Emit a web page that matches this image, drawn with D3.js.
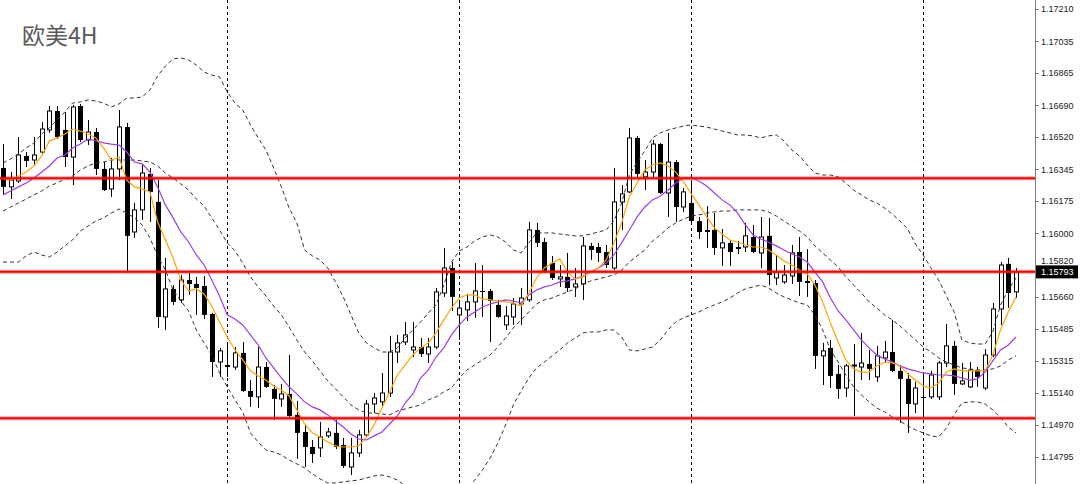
<!DOCTYPE html>
<html><head><meta charset="utf-8">
<script src="https://cdn.jsdelivr.net/npm/d3@7"></script>
<style>html,body{margin:0;padding:0;background:#fff;} svg{display:block}</style>
</head><body>
<svg id="c" width="1080" height="484"></svg>
<script>
const title = "欧美4H";
const opens = [1.16353,1.16251,1.16283,1.16418,1.16396,1.16439,1.16558,1.16660,1.16558,1.16412,
1.16687,1.16504,1.16547,1.16348,1.16240,1.16348,1.16574,1.16008,1.16127,1.16321,
1.16170,1.15550,1.15701,1.15642,1.15749,1.15728,1.15717,1.15566,1.15307,1.15291,
1.15280,1.15356,1.15151,1.15119,1.15280,1.15162,1.15108,1.15135,1.15022,1.14930,
1.14849,1.14844,1.14909,1.14925,1.14860,1.14741,1.14817,1.14914,1.15081,1.15092,
1.15140,1.15361,1.15415,1.15372,1.15388,1.15350,1.15388,1.15679,1.15814,1.15561,
1.15588,1.15631,1.15690,1.15690,1.15615,1.15507,1.15550,1.15620,1.15642,1.16019,
1.15954,1.15841,1.15755,1.15766,1.15712,1.15728,1.15933,1.15927,1.15900,1.15814,
1.16170,1.16224,1.16515,1.16305,1.16331,1.16482,1.16218,1.16385,1.16143,1.16164,
1.16067,1.16019,1.16019,1.15922,1.15949,1.15927,1.15927,1.15981,1.15895,1.15987,
1.15760,1.15739,1.15771,1.15900,1.15744,1.15733,1.15340,1.15383,1.15243,1.15167,
1.15286,1.15280,1.15297,1.15227,1.15329,1.15361,1.15259,1.15216,1.15081,1.15119,
1.15119,1.15119,1.15302,1.15394,1.15189,1.15173,1.15264,1.15167,1.15345,1.15593,
1.15836,1.15685];
const highs = [1.16482,1.16331,1.16520,1.16439,1.16520,1.16601,1.16687,1.16687,1.16655,1.16693,
1.16698,1.16612,1.16569,1.16385,1.16407,1.16666,1.16596,1.16164,1.16369,1.16353,
1.16288,1.15868,1.15722,1.15776,1.15787,1.15766,1.15771,1.15571,1.15383,1.15404,
1.15388,1.15415,1.15210,1.15388,1.15307,1.15183,1.15189,1.15345,1.15097,1.14968,
1.14887,1.14984,1.14952,1.14995,1.14898,1.14898,1.14941,1.15103,1.15140,1.15248,
1.15448,1.15453,1.15523,1.15523,1.15437,1.15437,1.15706,1.15922,1.15846,1.15625,
1.15674,1.15841,1.15830,1.15701,1.15642,1.15609,1.15652,1.15706,1.16062,1.16057,
1.15976,1.15879,1.15830,1.15895,1.15814,1.15981,1.15949,1.15949,1.15938,1.16353,
1.16261,1.16569,1.16526,1.16396,1.16504,1.16488,1.16542,1.16396,1.16245,1.16272,
1.16089,1.16148,1.16110,1.16024,1.15965,1.15960,1.16057,1.16046,1.16089,1.16084,
1.15884,1.15830,1.15938,1.15981,1.15916,1.15749,1.15410,1.15426,1.15291,1.15297,
1.15404,1.15464,1.15372,1.15394,1.15421,1.15534,1.15291,1.15248,1.15200,1.15248,
1.15259,1.15313,1.15512,1.15421,1.15302,1.15307,1.15280,1.15377,1.15625,1.15846,
1.15868,1.15814];
const lows = [1.16208,1.16186,1.16272,1.16358,1.16364,1.16423,1.16542,1.16509,1.16358,1.16261,
1.16493,1.16477,1.16315,1.16229,1.16197,1.16288,1.15787,1.15976,1.16073,1.16062,
1.15491,1.15480,1.15615,1.15625,1.15669,1.15561,1.15539,1.15227,1.15227,1.15227,
1.15264,1.15146,1.15065,1.15059,1.15167,1.14995,1.15065,1.15011,1.14785,1.14741,
1.14763,1.14795,1.14898,1.14838,1.14736,1.14698,1.14795,1.14903,1.15032,1.15065,
1.15119,1.15302,1.15399,1.15334,1.15334,1.15302,1.15377,1.15658,1.15582,1.15426,
1.15528,1.15545,1.15550,1.15415,1.15545,1.15480,1.15507,1.15507,1.15631,1.15927,
1.15787,1.15749,1.15712,1.15685,1.15658,1.15642,1.15857,1.15846,1.15814,1.15803,
1.16019,1.16218,1.16299,1.16234,1.16299,1.16213,1.16089,1.16062,1.16116,1.16051,
1.15970,1.15922,1.15884,1.15825,1.15825,1.15889,1.15900,1.15895,1.15814,1.15722,
1.15722,1.15728,1.15728,1.15663,1.15658,1.15270,1.15183,1.15167,1.15108,1.15119,
1.15016,1.15210,1.15210,1.15200,1.15302,1.15253,1.14979,1.14925,1.15032,1.15022,
1.15108,1.15103,1.15280,1.15130,1.15183,1.15167,1.15173,1.15156,1.15334,1.15507,
1.15598,1.15652];
const closes = [1.16251,1.16288,1.16423,1.16391,1.16423,1.16563,1.16660,1.16520,1.16412,1.16682,
1.16504,1.16547,1.16348,1.16234,1.16348,1.16574,1.15987,1.16127,1.16326,1.16224,
1.15550,1.15701,1.15631,1.15749,1.15728,1.15706,1.15561,1.15307,1.15367,1.15280,
1.15356,1.15151,1.15119,1.15280,1.15173,1.15108,1.15135,1.15016,1.14925,1.14849,
1.14811,1.14903,1.14930,1.14849,1.14747,1.14817,1.14914,1.15081,1.15113,1.15140,
1.15361,1.15410,1.15453,1.15388,1.15350,1.15388,1.15685,1.15814,1.15658,1.15598,
1.15631,1.15690,1.15685,1.15636,1.15550,1.15555,1.15620,1.15652,1.16019,1.15949,
1.15792,1.15760,1.15766,1.15706,1.15728,1.15933,1.15911,1.15895,1.15830,1.16170,
1.16213,1.16515,1.16321,1.16331,1.16482,1.16218,1.16385,1.16143,1.16224,1.16067,
1.16008,1.16008,1.15922,1.15949,1.15900,1.15916,1.15987,1.15900,1.15981,1.15776,
1.15792,1.15776,1.15895,1.15739,1.15733,1.15340,1.15367,1.15232,1.15162,1.15286,
1.15291,1.15302,1.15270,1.15340,1.15361,1.15259,1.15216,1.15081,1.15167,1.15113,
1.15237,1.15302,1.15394,1.15189,1.15205,1.15264,1.15227,1.15345,1.15593,1.15830,
1.15679,1.15793];
const maFast = [1.16294,1.16288,1.16310,1.16331,1.16364,1.16418,1.16499,1.16515,1.16536,1.16563,
1.16552,1.16536,1.16515,1.16461,1.16396,1.16412,1.16288,1.16251,1.16240,1.16224,
1.16062,1.15965,1.15868,1.15749,1.15690,1.15701,1.15674,1.15609,1.15523,1.15442,
1.15372,1.15318,1.15259,1.15232,1.15210,1.15178,1.15156,1.15124,1.15049,1.14973,
1.14925,1.14903,1.14876,1.14855,1.14849,1.14849,1.14855,1.14903,1.14968,1.15059,
1.15146,1.15237,1.15291,1.15345,1.15383,1.15410,1.15464,1.15534,1.15598,1.15652,
1.15669,1.15669,1.15647,1.15642,1.15636,1.15631,1.15625,1.15609,1.15679,1.15760,
1.15814,1.15841,1.15863,1.15792,1.15755,1.15766,1.15792,1.15814,1.15857,1.15949,
1.16057,1.16197,1.16272,1.16342,1.16369,1.16380,1.16364,1.16331,1.16278,1.16213,
1.16154,1.16089,1.16030,1.15997,1.15965,1.15954,1.15938,1.15927,1.15927,1.15911,
1.15884,1.15852,1.15830,1.15803,1.15782,1.15722,1.15631,1.15518,1.15415,1.15318,
1.15270,1.15253,1.15253,1.15286,1.15307,1.15302,1.15286,1.15243,1.15210,1.15178,
1.15167,1.15194,1.15253,1.15270,1.15259,1.15259,1.15259,1.15259,1.15345,1.15480,
1.15577,1.15658];
const maSlow = [1.16208,1.16229,1.16251,1.16272,1.16299,1.16331,1.16364,1.16407,1.16423,1.16461,
1.16482,1.16509,1.16499,1.16488,1.16482,1.16477,1.16439,1.16385,1.16375,1.16331,
1.16251,1.16154,1.16084,1.16008,1.15954,1.15884,1.15830,1.15749,1.15663,1.15561,
1.15539,1.15507,1.15453,1.15399,1.15329,1.15275,1.15221,1.15173,1.15135,1.15092,
1.15065,1.15049,1.15022,1.14989,1.14957,1.14919,1.14892,1.14887,1.14909,1.14930,
1.14973,1.15016,1.15086,1.15135,1.15221,1.15264,1.15334,1.15383,1.15453,1.15507,
1.15550,1.15577,1.15604,1.15620,1.15631,1.15642,1.15636,1.15625,1.15669,1.15695,
1.15712,1.15722,1.15739,1.15744,1.15755,1.15771,1.15792,1.15814,1.15841,1.15884,
1.15949,1.16019,1.16089,1.16143,1.16181,1.16202,1.16234,1.16272,1.16299,1.16299,
1.16283,1.16256,1.16218,1.16181,1.16154,1.16110,1.16046,1.15992,1.15970,1.15954,
1.15933,1.15911,1.15889,1.15873,1.15846,1.15792,1.15739,1.15652,1.15582,1.15534,
1.15480,1.15426,1.15383,1.15345,1.15324,1.15307,1.15286,1.15270,1.15259,1.15248,
1.15243,1.15237,1.15237,1.15232,1.15221,1.15210,1.15216,1.15253,1.15313,1.15372,
1.15399,1.15442];
const bbUpper = [1.16380,1.16402,1.16428,1.16461,1.16488,1.16536,1.16569,1.16612,1.16655,1.16703,
1.16709,1.16720,1.16714,1.16703,1.16682,1.16698,1.16730,1.16730,1.16736,1.16773,
1.16849,1.16903,1.16941,1.16946,1.16935,1.16908,1.16870,1.16854,1.16844,1.16763,
1.16703,1.16666,1.16585,1.16515,1.16450,1.16353,1.16251,1.16137,1.16057,1.15911,
1.15879,1.15857,1.15814,1.15739,1.15658,1.15561,1.15464,1.15410,1.15383,1.15361,
1.15361,1.15383,1.15437,1.15480,1.15523,1.15571,1.15615,1.15722,1.15846,1.15906,
1.15927,1.15960,1.15981,1.15992,1.15981,1.15954,1.15911,1.15895,1.15949,1.16003,
1.16003,1.16003,1.15997,1.15992,1.15987,1.15987,1.15997,1.16008,1.16019,1.16067,
1.16164,1.16315,1.16385,1.16445,1.16515,1.16542,1.16558,1.16569,1.16579,1.16585,
1.16579,1.16574,1.16563,1.16552,1.16542,1.16531,1.16531,1.16526,1.16515,1.16526,
1.16531,1.16499,1.16450,1.16418,1.16369,1.16326,1.16315,1.16315,1.16305,1.16272,
1.16234,1.16208,1.16181,1.16164,1.16137,1.16105,1.16067,1.16024,1.15943,1.15884,
1.15814,1.15749,1.15663,1.15577,1.15426,1.15410,1.15404,1.15404,1.15469,1.15615,
1.15695,1.15760];
const bbMiddle = [1.16121,1.16143,1.16164,1.16186,1.16208,1.16229,1.16256,1.16272,1.16294,1.16310,
1.16342,1.16364,1.16380,1.16385,1.16396,1.16396,1.16396,1.16396,1.16391,1.16385,
1.16364,1.16326,1.16299,1.16267,1.16234,1.16186,1.16148,1.16084,1.16019,1.15949,
1.15906,1.15841,1.15766,1.15712,1.15663,1.15609,1.15561,1.15496,1.15426,1.15361,
1.15313,1.15259,1.15205,1.15162,1.15119,1.15076,1.15049,1.15032,1.15032,1.15027,
1.15022,1.15043,1.15054,1.15065,1.15076,1.15103,1.15119,1.15146,1.15167,1.15221,
1.15264,1.15291,1.15318,1.15345,1.15388,1.15437,1.15491,1.15534,1.15577,1.15620,
1.15642,1.15652,1.15669,1.15685,1.15701,1.15728,1.15744,1.15755,1.15766,1.15776,
1.15803,1.15846,1.15879,1.15911,1.15960,1.15992,1.16030,1.16057,1.16078,1.16094,
1.16100,1.16110,1.16116,1.16121,1.16121,1.16127,1.16127,1.16127,1.16127,1.16116,
1.16094,1.16067,1.16040,1.16013,1.15981,1.15933,1.15895,1.15857,1.15819,1.15766,
1.15722,1.15679,1.15631,1.15598,1.15561,1.15534,1.15501,1.15464,1.15426,1.15388,
1.15361,1.15329,1.15307,1.15291,1.15275,1.15270,1.15264,1.15264,1.15270,1.15286,
1.15318,1.15340];
const bbLower = [1.15846,1.15846,1.15846,1.15879,1.15900,1.15884,1.15873,1.15900,1.15933,1.15965,
1.16013,1.16040,1.16067,1.16084,1.16110,1.16132,1.16110,1.16084,1.16046,1.15976,
1.15879,1.15803,1.15695,1.15636,1.15582,1.15480,1.15410,1.15345,1.15248,1.15173,
1.15103,1.15038,1.14925,1.14876,1.14833,1.14822,1.14806,1.14779,1.14758,1.14736,
1.14704,1.14677,1.14655,1.14655,1.14661,1.14666,1.14671,1.14682,1.14693,1.14698,
1.14688,1.14671,1.14639,1.14607,1.14591,1.14580,1.14574,1.14564,1.14574,1.14596,
1.14623,1.14671,1.14725,1.14790,1.14871,1.14968,1.15076,1.15151,1.15221,1.15275,
1.15307,1.15340,1.15372,1.15410,1.15437,1.15464,1.15469,1.15469,1.15480,1.15480,
1.15442,1.15372,1.15367,1.15377,1.15388,1.15426,1.15480,1.15523,1.15545,1.15561,
1.15577,1.15598,1.15615,1.15631,1.15652,1.15679,1.15701,1.15712,1.15722,1.15706,
1.15679,1.15658,1.15642,1.15625,1.15615,1.15561,1.15480,1.15372,1.15307,1.15237,
1.15173,1.15130,1.15092,1.15059,1.15038,1.15011,1.14989,1.14962,1.14941,1.14925,
1.14909,1.14903,1.14952,1.15022,1.15086,1.15092,1.15092,1.15081,1.15049,1.15006,
1.14957,1.14925];
const levels = [1.16298, 1.15794, 1.15004];
const separators = [29, 59, 89, 119];
const tickValues = [1.17210,1.17035,1.16865,1.16690,1.16520,1.16345,1.16175,1.16000,1.15820,1.15660,1.15485,1.15315,1.15140,1.14970,1.14795];
const tickLabels = ["1.17210","1.17035","1.16865","1.16690","1.16520","1.16345","1.16175","1.16000","1.15820","1.15660","1.15485","1.15315","1.15140","1.14970","1.14795"];
const lastPrice = 1.15793;
const lastLabel = "1.15793";

const W = 1080, H = 484, plotW = 1035;
const svg = d3.select('#c');
const x = d3.scaleLinear().domain([0, opens.length - 1]).range([3, 1016]);
const y = d3.scaleLinear().domain([1.14795, 1.17210]).range([457, 9]);

svg.append('rect').attr('width', W).attr('height', H).attr('fill', '#fff');
svg.append('defs').append('clipPath').attr('id', 'clip')
  .append('rect').attr('x', 0).attr('y', 0).attr('width', plotW).attr('height', H);
const g = svg.append('g').attr('clip-path', 'url(#clip)');

// period separators
g.selectAll('line.sep').data(separators).join('line').attr('class', 'sep')
  .attr('x1', d => Math.round(x(d)) + 0.5).attr('x2', d => Math.round(x(d)) + 0.5)
  .attr('y1', 0).attr('y2', H)
  .attr('stroke', '#000').attr('stroke-width', 1).attr('stroke-dasharray', '3,3');

// title
svg.append('text').attr('x', 22).attr('y', 44)
  .attr('font-family', '"Noto Sans CJK SC", "Noto Sans", sans-serif')
  .attr('font-size', 23).attr('fill', '#5a5a5a').text(title);

// candles
const idx = d3.range(opens.length);
const cg = g.append('g');
cg.selectAll('line.wick').data(idx).join('line').attr('class', 'wick')
  .attr('x1', i => Math.round(x(i)) + 0.5).attr('x2', i => Math.round(x(i)) + 0.5)
  .attr('y1', i => y(highs[i])).attr('y2', i => y(lows[i]))
  .attr('stroke', '#000').attr('stroke-width', 1);
cg.selectAll('rect.body').data(idx).join('rect').attr('class', 'body')
  .attr('x', i => closes[i] >= opens[i] ? Math.round(x(i)) - 1.5 : Math.round(x(i)) - 2)
  .attr('width', i => closes[i] >= opens[i] ? 4 : 5)
  .attr('y', i => y(Math.max(opens[i], closes[i])))
  .attr('height', i => Math.max(1, y(Math.min(opens[i], closes[i])) - y(Math.max(opens[i], closes[i]))))
  .attr('fill', i => closes[i] >= opens[i] ? '#fff' : '#000')
  .attr('stroke', i => closes[i] >= opens[i] ? '#000' : 'none')
  .attr('stroke-width', 1);

// bollinger bands
const line = d3.line().x((d, i) => x(i)).y(d => y(d));
[bbUpper, bbMiddle, bbLower].forEach(arr => {
  g.append('path').datum(arr).attr('d', line)
    .attr('fill', 'none').attr('stroke', '#333').attr('stroke-width', 1)
    .attr('stroke-dasharray', '4,3');
});
// moving averages
g.append('path').datum(maSlow).attr('d', line).attr('fill', 'none')
  .attr('stroke', '#9b3cf0').attr('stroke-width', 1.2);
g.append('path').datum(maFast).attr('d', line).attr('fill', 'none')
  .attr('stroke', '#ffa500').attr('stroke-width', 1.2);

// bid line + horizontal levels
g.append('line').attr('x1', 0).attr('x2', plotW).attr('y1', y(lastPrice)).attr('y2', y(lastPrice))
  .attr('stroke', '#b0b0b0').attr('stroke-width', 1);
g.selectAll('line.lvlh').data(levels).join('line').attr('class', 'lvlh')
  .attr('x1', 0).attr('x2', plotW).attr('y1', d => y(d)).attr('y2', d => y(d))
  .attr('stroke', 'rgba(255,0,0,0.35)').attr('stroke-width', 4);
g.selectAll('line.lvl').data(levels).join('line').attr('class', 'lvl')
  .attr('x1', 0).attr('x2', plotW).attr('y1', d => y(d)).attr('y2', d => y(d))
  .attr('stroke', '#ff0000').attr('stroke-width', 2);

// price axis
const ax = svg.append('g');
ax.append('line').attr('x1', plotW + 0.5).attr('x2', plotW + 0.5).attr('y1', 0).attr('y2', H)
  .attr('stroke', '#808080').attr('stroke-width', 1);
ax.selectAll('line.tk').data(tickValues).join('line').attr('class', 'tk')
  .attr('x1', plotW).attr('x2', plotW + 4)
  .attr('y1', d => Math.round(y(d)) + 0.5).attr('y2', d => Math.round(y(d)) + 0.5)
  .attr('stroke', '#808080');
const lastY = y(lastPrice);
// a label that would sit under the current-price box is nudged just above it
const labelY = d => (Math.abs(y(d) - lastY) < 11 ? (y(d) < lastY ? lastY - 11.5 : lastY + 11.5) : y(d));
ax.selectAll('text.tl').data(tickValues).join('text').attr('class', 'tl')
  .attr('x', plotW + 6).attr('y', d => labelY(d)).attr('dy', '0.35em')
  .attr('font-family', '"Liberation Sans", Arial, sans-serif').attr('font-size', 9)
  .attr('fill', '#222').text((d, i) => tickLabels[i]);
// current price box
ax.append('rect').attr('x', plotW + 1).attr('y', lastY - 6.5).attr('width', 42).attr('height', 13)
  .attr('fill', '#000');
ax.append('text').attr('x', plotW + 6).attr('y', lastY).attr('dy', '0.35em')
  .attr('font-family', '"Liberation Sans", Arial, sans-serif').attr('font-size', 9)
  .attr('fill', '#fff').text(lastLabel);
</script>
</body></html>
